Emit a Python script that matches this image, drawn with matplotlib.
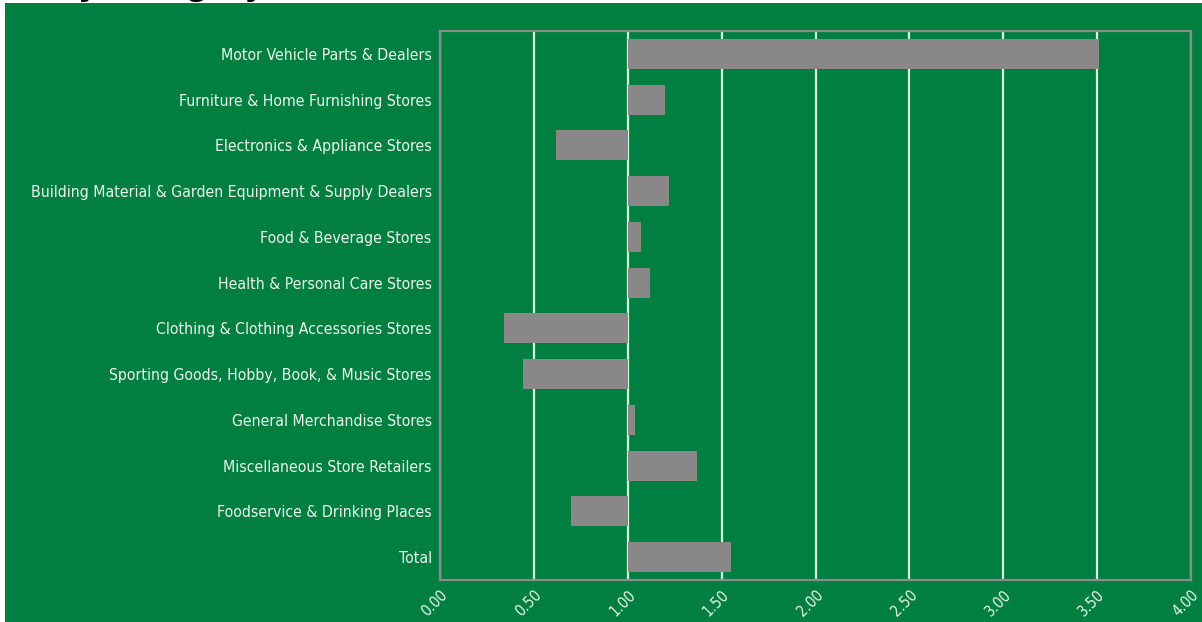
import matplotlib
matplotlib.use("Agg")
import matplotlib.pyplot as plt
from matplotlib import font_manager
from matplotlib.patches import Rectangle

categories = [
    "Motor Vehicle Parts & Dealers",
    "Furniture & Home Furnishing Stores",
    "Electronics & Appliance Stores",
    "Building Material & Garden Equipment & Supply Dealers",
    "Food & Beverage Stores",
    "Health & Personal Care Stores",
    "Clothing & Clothing Accessories Stores",
    "Sporting Goods, Hobby, Book, & Music Stores",
    "General Merchandise Stores",
    "Miscellaneous Store Retailers",
    "Foodservice & Drinking Places",
    "Total",
]
pull_factor = [3.51, 1.20, 0.62, 1.22, 1.07, 1.12, 0.34, 0.44, 1.04, 1.37, 0.70, 1.55]
x_ticks = [0.0, 0.5, 1.0, 1.5, 2.0, 2.5, 3.0, 3.5, 4.0]
baseline = 1.0

GREEN = "#017f40"
BAR = "#898787"
TEXT = "#eaf6ec"

# prefer a narrow face for the long category names
fonts = font_manager.fontManager.ttflist
names = {f.name for f in fonts}
if "Liberation Sans Narrow" in names:
    label_font = dict(family=["Liberation Sans Narrow", "DejaVu Sans"], fontsize=12.5)
elif any(f.name == "DejaVu Sans" and f.stretch == "condensed" for f in fonts):
    label_font = dict(family=["DejaVu Sans"], fontstretch="condensed", fontsize=11.3)
else:
    label_font = dict(family=["Lato", "DejaVu Sans"], fontsize=11.5)
tick_font = {**label_font, "fontsize": label_font["fontsize"] - 0.5}

fig = plt.figure(figsize=(12.02, 6.22), dpi=100)
fig.patch.set_facecolor("white")

# title sits above the canvas, only its descenders peek out
fig.text(-0.13, 1.0065, "Pull Factors by Category", fontsize=22, fontweight="bold",
         color="black", ha="left", va="baseline", zorder=-2)
fig.patches.append(Rectangle((5 / 1202, 0), 1, 1 - 3 / 622, transform=fig.transFigure,
                             facecolor=GREEN, edgecolor="none", zorder=-1))

ax = fig.add_axes([440 / 1202, 1 - 580 / 622, 751 / 1202, 549 / 622])
ax.set_facecolor(GREEN)
ax.set_axisbelow(True)

y = list(range(len(categories)))
widths = [v - baseline for v in pull_factor]
ax.barh(y, widths, left=baseline, height=0.66, color=BAR, edgecolor="none", zorder=2)

ax.set_xlim(0, 4.0)
ax.set_ylim(len(categories) - 0.5, -0.5)
ax.set_xticks(x_ticks)
ax.set_xticklabels([f"{t:.2f}" for t in x_ticks], rotation=45, ha="right", va="top",
                   rotation_mode="anchor", color=TEXT, **tick_font)
ax.set_yticks(y)
ax.set_yticklabels(categories, color=TEXT, **label_font)
ax.tick_params(axis="both", length=0)
ax.tick_params(axis="y", pad=6)
ax.tick_params(axis="x", pad=5)

ax.xaxis.grid(True, color="#d4f7e0", linewidth=1.6, zorder=1)
ax.yaxis.grid(False)
for side in ax.spines.values():
    side.set_color("#8c8c8c")
    side.set_linewidth(1.6)

fig.savefig("out.png", dpi=100, facecolor=fig.get_facecolor())
